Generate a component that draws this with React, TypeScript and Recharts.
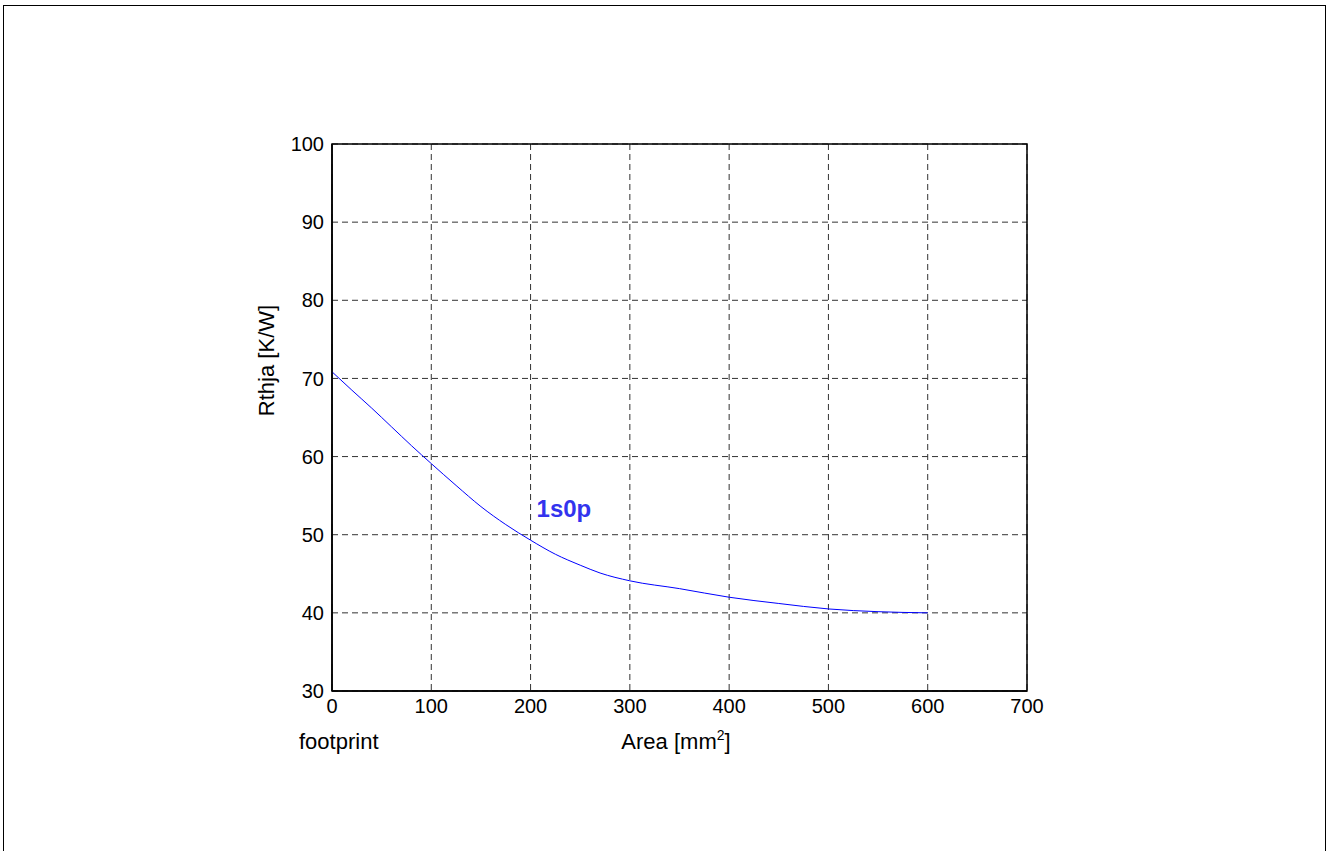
import React from "react";
import {
  LineChart,
  Line,
  XAxis,
  YAxis,
  CartesianGrid,
  ReferenceArea,
  ReferenceDot,
  Label,
} from "recharts";

const areaValues = [0, 20, 40, 60, 80, 100, 125, 150, 175, 200, 225, 250, 270, 300, 350, 400, 450, 500, 550, 600];
const rthjaValues = [70.85, 68.5, 66.2, 63.8, 61.4, 59.1, 56.3, 53.6, 51.3, 49.3, 47.5, 46.1, 45.1, 44.1, 43.1, 42.0, 41.2, 40.5, 40.15, 40.0];
const xTicks = [0, 100, 200, 300, 400, 500, 600, 700];
const yTicks = [30, 40, 50, 60, 70, 80, 90, 100];
const seriesName = "1s0p";
const seriesLabelPos = { x: 233.6, y: 53.4 };

const data = areaValues.map((a, i) => ({ area: a, rthja: rthjaValues[i] }));

const FONT = "'Liberation Sans', Arial, Helvetica, sans-serif";

const XLabels = (props: any) => {
  const vb = props.viewBox || { x: 332, y: 691, width: 695, height: 30 };
  return (
    <g>
      <text x={vb.x - 33} y={vb.y + 58} fontFamily={FONT} fontSize={22} fill="#000">
        footprint
      </text>
      <text x={vb.x + 344} y={vb.y + 58} fontFamily={FONT} fontSize={22} fill="#000" textAnchor="middle">
        Area [mm<tspan fontSize={14} dy={-9}>2</tspan>
        <tspan dy={9}>]</tspan>
      </text>
    </g>
  );
};

const YLabel = (props: any) => {
  const vb = props.viewBox || { x: 272, y: 144, width: 60, height: 547 };
  const cx = vb.x + 2;
  const cy = vb.y + vb.height / 2 - 57;
  return (
    <text
      x={cx}
      y={cy}
      transform={`rotate(-90 ${cx} ${cy})`}
      fontFamily={FONT}
      fontSize={22}
      fill="#000"
      textAnchor="middle"
    >
      Rthja [K/W]
    </text>
  );
};

export default function App() {
  return (
    <div style={{ position: "absolute", left: 0, top: 0, width: 1328, height: 851, background: "#fff" }}>
      <div
        style={{
          position: "absolute",
          left: 3,
          top: 5,
          width: 1323,
          height: 900,
          border: "1.5px solid #000",
          boxSizing: "border-box",
        }}
      />
      <div style={{ position: "absolute", left: 0, top: 0 }}>
        <LineChart
          width={1328}
          height={851}
          data={data}
          margin={{ top: 144, right: 301, bottom: 130, left: 272 }}
        >
          <CartesianGrid stroke="#333" strokeDasharray="6 4" strokeWidth={1} />
          <XAxis
            dataKey="area"
            type="number"
            domain={[0, 700]}
            ticks={xTicks}
            allowDataOverflow
            axisLine={{ stroke: "#000", strokeWidth: 1.5 }}
            tickLine={false}
            tick={{ fill: "#000", fontSize: 20, fontFamily: FONT }}
            height={30}
          >
            <Label content={XLabels} />
          </XAxis>
          <YAxis
            type="number"
            domain={[30, 100]}
            ticks={yTicks}
            allowDataOverflow
            axisLine={{ stroke: "#000", strokeWidth: 1.5 }}
            tickLine={false}
            tick={{ fill: "#000", fontSize: 20, fontFamily: FONT }}
            width={60}
          >
            <Label content={YLabel} />
          </YAxis>
          <ReferenceArea x1={0} x2={700} y1={30} y2={100} fill="none" stroke="#000" strokeWidth={1.5} ifOverflow="visible" />
          <Line
            type="monotone"
            dataKey="rthja"
            stroke="#0000ff"
            strokeWidth={1}
            dot={false}
            isAnimationActive={false}
          />
          <ReferenceDot
            x={seriesLabelPos.x}
            y={seriesLabelPos.y}
            r={0}
            fill="none"
            stroke="none"
            label={{
              value: seriesName,
              position: "center",
              fill: "#3333ee",
              fontSize: 24,
              fontWeight: "bold",
              fontFamily: FONT,
            }}
          />
        </LineChart>
      </div>
    </div>
  );
}
